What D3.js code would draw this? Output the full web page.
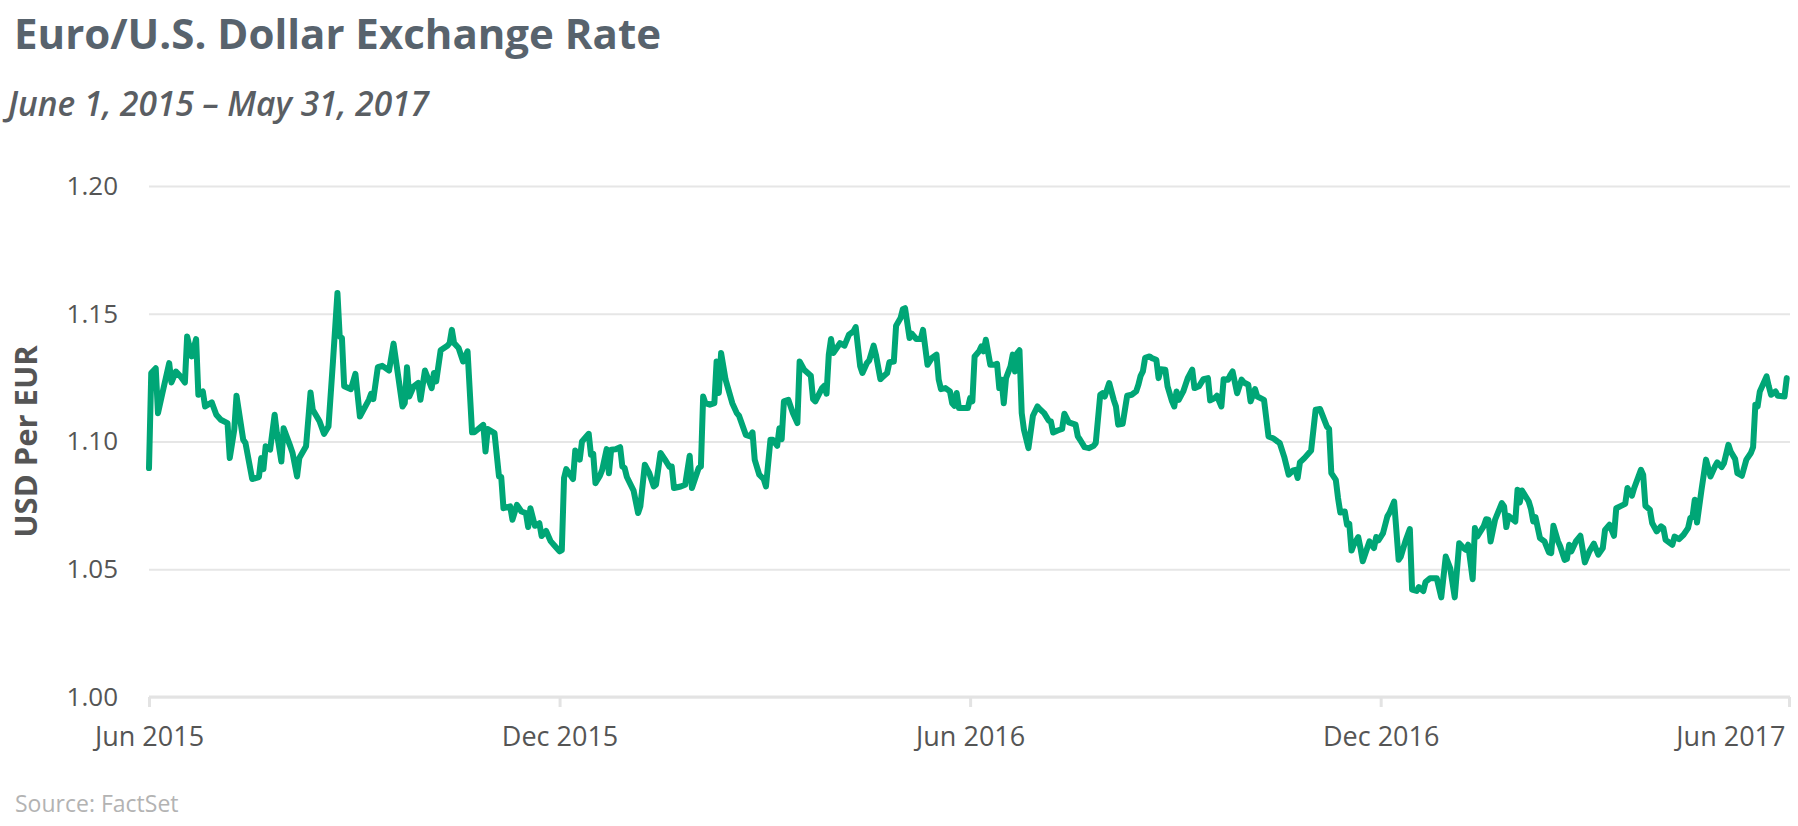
<!DOCTYPE html>
<html>
<head>
<meta charset="utf-8">
<script src="https://cdn.jsdelivr.net/npm/d3@7"></script>
<style>
  body { margin: 0; background: #fff; }
  svg { display: block; font-family: "Open Sans", sans-serif; }
</style>
</head>
<body>
<div id="chart"></div>
<script>
// EUR/USD
// days counted from June 1, 2015
const startDate = new Date(2015, 5, 1);

const dayIndex = [
  0, 1, 3, 4, 6, 9, 10, 12, 14, 16, 17, 19, 21, 22, 24, 25, 28, 30, 32, 35,
  36, 38, 39, 42, 43, 46, 49, 50, 51, 52, 54, 56, 57, 59, 60, 63, 64, 66, 67, 70,
  72, 73, 76, 78, 80, 82, 84, 85, 86, 87, 90, 92, 94, 98, 99, 100, 102, 104, 107, 109,
  113, 114, 115, 116, 118, 120, 121, 123, 126, 127, 128, 130, 133, 134, 135, 136, 138, 140, 142, 144,
  145, 149, 150, 151, 154, 156, 157, 158, 161, 162, 164, 166, 168, 169, 170, 172, 174, 175, 177, 179,
  181, 183, 184, 185, 186, 189, 190, 192, 193, 196, 197, 198, 199, 201, 202, 204, 205, 206, 208, 210,
  211, 212, 213, 216, 218, 219, 221, 223, 225, 226, 228, 230, 232, 233, 234, 237, 239, 241, 242, 245,
  246, 247, 248, 250, 252, 253, 254, 255, 257, 260, 262, 263, 266, 268, 269, 270, 272, 274, 275, 277,
  278, 280, 281, 282, 283, 285, 287, 289, 290, 292, 295, 296, 297, 300, 301, 302, 303, 304, 305, 307,
  308, 310, 312, 314, 315, 317, 318, 320, 321, 323, 324, 326, 327, 329, 330, 332, 333, 335, 336, 337,
  339, 340, 342, 344, 345, 347, 349, 351, 352, 353, 355, 357, 358, 359, 360, 361, 365, 366, 367, 368,
  370, 371, 372, 373, 375, 377, 378, 379, 380, 381, 382, 384, 385, 386, 387, 388, 389, 390, 392, 394,
  396, 397, 399, 401, 402, 403, 405, 407, 408, 410, 411, 413, 414, 415, 417, 419, 421, 422, 424, 425,
  426, 428, 430, 431, 432, 434, 435, 436, 438, 440, 441, 442, 443, 444, 446, 447, 449, 450, 451, 453,
  454, 456, 457, 458, 459, 461, 463, 465, 466, 468, 470, 472, 473, 475, 476, 478, 479, 481, 482, 483,
  485, 487, 488, 490, 491, 493, 494, 497, 499, 501, 503, 504, 506, 508, 510, 511, 512, 513, 515, 518,
  520, 522, 525, 526, 527, 529, 530, 531, 533, 534, 535, 536, 537, 539, 540, 541, 543, 544, 546, 547,
  548, 550, 552, 553, 555, 557, 558, 560, 562, 563, 565, 566, 568, 569, 571, 574, 576, 578, 580, 582,
  584, 586, 587, 588, 590, 591, 592, 595, 596, 597, 598, 600, 603, 604, 605, 606, 609, 610, 611, 612,
  615, 616, 617, 618, 620, 622, 624, 625, 626, 628, 629, 631, 632, 633, 634, 636, 638, 640, 642, 644,
  646, 648, 649, 651, 653, 654, 658, 659, 661, 662, 665, 666, 667, 669, 670, 672, 674, 675, 676, 679,
  680, 682, 684, 686, 687, 688, 689, 690, 692, 694, 696, 698, 699, 701, 702, 704, 705, 707, 708, 710,
  712, 714, 715, 716, 717, 718, 720, 721, 722, 723, 725, 726, 729, 730
];

const usdPerEur = [
  1.0896, 1.1268, 1.1287, 1.1111, 1.1190, 1.1307, 1.1231, 1.1274, 1.1255, 1.1231, 1.1411, 1.1333, 1.1401, 1.1183, 1.1196, 1.1137, 1.1153, 1.1105, 1.1085, 1.1072,
  1.0935, 1.1046, 1.1179, 1.1007, 1.0994, 1.0853, 1.0861, 1.0935, 1.0892, 1.0981, 1.0968, 1.1105, 1.1033, 1.0922, 1.1052, 1.0981, 1.0955, 1.0863, 1.0935, 1.0981,
  1.1192, 1.1124, 1.1079, 1.1030, 1.1059, 1.1313, 1.1581, 1.1411, 1.1405, 1.1216, 1.1205, 1.1265, 1.1098, 1.1163, 1.1187, 1.1166, 1.1291, 1.1296, 1.1278, 1.1383,
  1.1137, 1.1150, 1.1291, 1.1176, 1.1216, 1.1229, 1.1163, 1.1278, 1.1209, 1.1268, 1.1235, 1.1357, 1.1375, 1.1385, 1.1437, 1.1385, 1.1366, 1.1313, 1.1353, 1.1036,
  1.1036, 1.1065, 1.0961, 1.1049, 1.1033, 1.0863, 1.0861, 1.0739, 1.0746, 1.0694, 1.0752, 1.0726, 1.0720, 1.0665, 1.0739, 1.0670, 1.0680, 1.0630, 1.0650, 1.0610,
  1.0590, 1.0570, 1.0575, 1.0857, 1.0892, 1.0853, 1.0965, 1.0929, 1.1000, 1.1030, 1.0948, 1.0952, 1.0837, 1.0866, 1.0889, 1.0970, 1.0876, 1.0968, 1.0970, 1.0978,
  1.0902, 1.0896, 1.0861, 1.0808, 1.0720, 1.0746, 1.0909, 1.0876, 1.0824, 1.0831, 1.0955, 1.0929, 1.0900, 1.0902, 1.0818, 1.0824, 1.0831, 1.0944, 1.0818, 1.0896,
  1.0902, 1.1176, 1.1150, 1.1144, 1.1150, 1.1313, 1.1190, 1.1346, 1.1242, 1.1150, 1.1111, 1.1101, 1.1026, 1.1020, 1.1036, 1.0928, 1.0870, 1.0853, 1.0824, 1.1007,
  1.1007, 1.0983, 1.1052, 1.1009, 1.1157, 1.1163, 1.1111, 1.1072, 1.1313, 1.1281, 1.1257, 1.1166, 1.1157, 1.1209, 1.1218, 1.1187, 1.1340, 1.1401, 1.1346, 1.1372,
  1.1385, 1.1375, 1.1418, 1.1431, 1.1448, 1.1294, 1.1268, 1.1307, 1.1317, 1.1375, 1.1340, 1.1244, 1.1252, 1.1268, 1.1310, 1.1313, 1.1453, 1.1483, 1.1518, 1.1522,
  1.1405, 1.1422, 1.1401, 1.1401, 1.1437, 1.1300, 1.1327, 1.1340, 1.1242, 1.1205, 1.1209, 1.1196, 1.1150, 1.1140, 1.1190, 1.1131, 1.1131, 1.1170, 1.1157, 1.1333,
  1.1353, 1.1372, 1.1353, 1.1398, 1.1300, 1.1300, 1.1304, 1.1209, 1.1242, 1.1150, 1.1248, 1.1294, 1.1340, 1.1274, 1.1346, 1.1357, 1.1111, 1.1046, 1.0974, 1.1101,
  1.1137, 1.1127, 1.1111, 1.1082, 1.1079, 1.1035, 1.1043, 1.1049, 1.1109, 1.1075, 1.1072, 1.1066, 1.1020, 1.1007, 1.0978, 1.0974, 1.0983, 1.0994, 1.1183, 1.1189,
  1.1176, 1.1229, 1.1163, 1.1137, 1.1066, 1.1069, 1.1124, 1.1179, 1.1183, 1.1196, 1.1222, 1.1257, 1.1274, 1.1327, 1.1333, 1.1326, 1.1320, 1.1248, 1.1283, 1.1281,
  1.1216, 1.1157, 1.1137, 1.1196, 1.1163, 1.1196, 1.1248, 1.1281, 1.1209, 1.1216, 1.1244, 1.1248, 1.1161, 1.1170, 1.1179, 1.1137, 1.1244, 1.1242, 1.1261, 1.1274,
  1.1189, 1.1242, 1.1231, 1.1222, 1.1157, 1.1205, 1.1176, 1.1163, 1.1020, 1.1013, 1.1000, 1.0994, 1.0940, 1.0870, 1.0887, 1.0889, 1.0857, 1.0918, 1.0935, 1.0965,
  1.1124, 1.1127, 1.1059, 1.1049, 1.0876, 1.0850, 1.0778, 1.0722, 1.0726, 1.0674, 1.0678, 1.0573, 1.0596, 1.0626, 1.0583, 1.0531, 1.0583, 1.0609, 1.0583, 1.0626,
  1.0613, 1.0640, 1.0707, 1.0722, 1.0765, 1.0537, 1.0550, 1.0609, 1.0657, 1.0420, 1.0415, 1.0430, 1.0415, 1.0450, 1.0465, 1.0465, 1.0390, 1.0550, 1.0504, 1.0390,
  1.0602, 1.0583, 1.0576, 1.0596, 1.0461, 1.0661, 1.0628, 1.0670, 1.0696, 1.0694, 1.0609, 1.0694, 1.0759, 1.0746, 1.0665, 1.0709, 1.0687, 1.0811, 1.0761, 1.0808,
  1.0765, 1.0735, 1.0687, 1.0704, 1.0622, 1.0609, 1.0566, 1.0563, 1.0670, 1.0610, 1.0590, 1.0537, 1.0540, 1.0596, 1.0570, 1.0609, 1.0631, 1.0527, 1.0570, 1.0600,
  1.0557, 1.0583, 1.0654, 1.0674, 1.0631, 1.0739, 1.0756, 1.0818, 1.0788, 1.0818, 1.0889, 1.0870, 1.0748, 1.0733, 1.0681, 1.0648, 1.0668, 1.0661, 1.0615, 1.0596,
  1.0628, 1.0618, 1.0635, 1.0661, 1.0700, 1.0707, 1.0772, 1.0683, 1.0811, 1.0929, 1.0863, 1.0902, 1.0918, 1.0900, 1.0915, 1.0987, 1.0961, 1.0931, 1.0876, 1.0866,
  1.0929, 1.0955, 1.0978, 1.1144, 1.1137, 1.1196, 1.1235, 1.1255, 1.1216, 1.1183, 1.1196, 1.1179, 1.1176, 1.1248
];

const yTicks = [1.00, 1.05, 1.10, 1.15, 1.20];
const xTickDates = [new Date(2015, 5, 1), new Date(2015, 11, 1), new Date(2016, 5, 1), new Date(2016, 11, 1), new Date(2017, 5, 1)];
const xTickLabels = ["Jun 2015", "Dec 2015", "Jun 2016", "Dec 2016", "Jun 2017"];

const data = dayIndex.map((d, i) => ({
  date: d3.timeDay.offset(startDate, d),
  value: usdPerEur[i]
}));

const svgWidth = 1798;
const svgHeight = 826;
const margin = { top: 186, right: 9, bottom: 129, left: 149 };
const width = svgWidth - margin.left - margin.right;
const height = svgHeight - margin.top - margin.bottom;

const svg = d3.select("#chart")
  .append("svg")
  .attr("width", svgWidth)
  .attr("height", svgHeight);

// titles
svg.append("text")
  .attr("x", 14)
  .attr("y", 49)
  .attr("font-size", 42)
  .attr("font-weight", 700)
  .attr("fill", "#58636d")
  .text("Euro/U.S. Dollar Exchange Rate");

svg.append("text")
  .attr("x", 8)
  .attr("y", 116)
  .attr("font-size", 33.5)
  .attr("font-style", "italic")
  .attr("font-weight", 600)
  .attr("fill", "#5a5e63")
  .text("June 1, 2015 – May 31, 2017");

const chartGroup = svg.append("g")
  .attr("transform", `translate(${margin.left}, ${margin.top})`);

const xScale = d3.scaleTime()
  .domain([xTickDates[0], xTickDates[xTickDates.length - 1]])
  .range([0, width]);

const yScale = d3.scaleLinear()
  .domain([1.00, 1.20])
  .range([height, 0]);

// y axis with gridlines
const leftAxis = d3.axisLeft(yScale)
  .tickValues(yTicks)
  .tickFormat(d3.format(".2f"))
  .tickSize(-width - 1)
  .tickPadding(31);

const yAxisG = chartGroup.append("g").call(leftAxis);
yAxisG.select(".domain").remove();
yAxisG.selectAll(".tick line")
  .attr("stroke", "#e6e6e6")
  .attr("stroke-width", 2);
yAxisG.selectAll(".tick text")
  .attr("font-size", 26)
  .attr("fill", "#555")
  .attr("font-family", "Open Sans, sans-serif");

// x axis
const bottomAxis = d3.axisBottom(xScale)
  .tickValues(xTickDates)
  .tickFormat((d, i) => xTickLabels[i])
  .tickSize(10)
  .tickPadding(20);

const xAxisG = chartGroup.append("g")
  .attr("transform", `translate(0, ${height})`)
  .call(bottomAxis);
xAxisG.select(".domain")
  .attr("stroke", "#e3e3e3")
  .attr("stroke-width", 3)
  .attr("d", `M0,0H${width + 1}`);
xAxisG.selectAll(".tick line")
  .attr("stroke", "#e3e3e3")
  .attr("stroke-width", 3);
xAxisG.selectAll(".tick text")
  .attr("font-size", 27)
  .attr("fill", "#555")
  .attr("font-family", "Open Sans, sans-serif");
xAxisG.selectAll(".tick text")
  .filter((d, i) => i === xTickDates.length - 1)
  .attr("text-anchor", "end")
  .attr("dx", -4);

// y axis title
svg.append("text")
  .attr("transform", `translate(37, ${margin.top + height / 2}) rotate(-90)`)
  .attr("text-anchor", "middle")
  .attr("font-size", 31)
  .attr("font-weight", 700)
  .attr("fill", "#555")
  .text("USD Per EUR");

// the line
const line = d3.line()
  .x(d => xScale(d.date))
  .y(d => yScale(d.value));

chartGroup.append("path")
  .datum(data)
  .attr("fill", "none")
  .attr("stroke", "#00a676")
  .attr("stroke-width", 6)
  .attr("stroke-linejoin", "round")
  .attr("stroke-linecap", "round")
  .attr("d", line);

// source note
svg.append("text")
  .attr("x", 15)
  .attr("y", 812)
  .attr("font-size", 23)
  .attr("fill", "#b3b3b3")
  .text("Source: FactSet");
</script>
</body>
</html>
